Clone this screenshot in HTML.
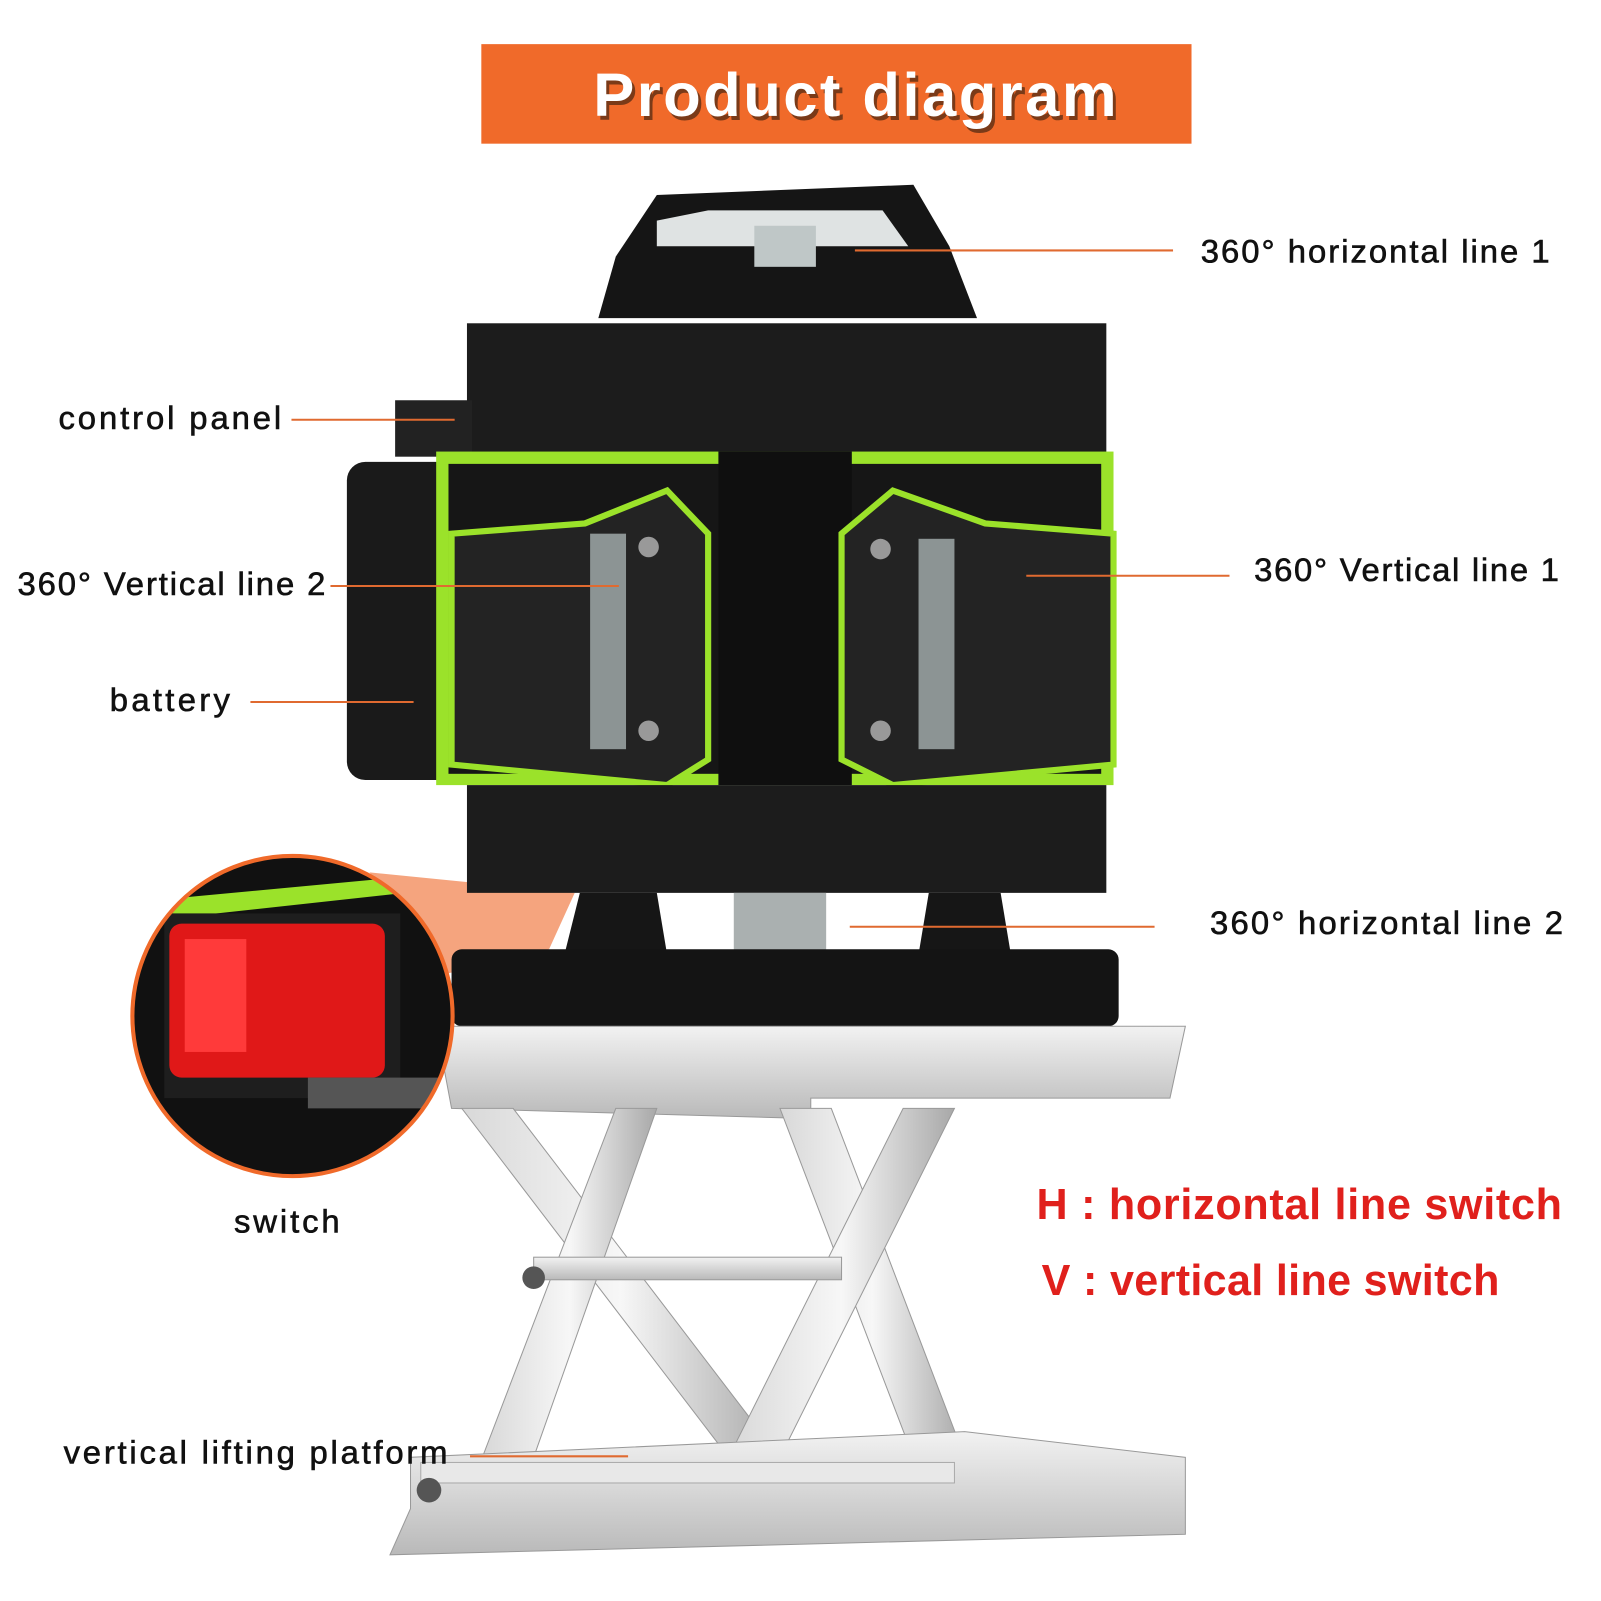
<!DOCTYPE html>
<html><head><meta charset="utf-8"><style>
html,body{margin:0;padding:0;background:#fff}
svg{display:block}
text{font-family:"Liberation Sans",sans-serif}
</style></head><body>
<svg width="1601" height="1601" viewBox="0 0 1560 1560" xmlns="http://www.w3.org/2000/svg">
<defs>
<linearGradient id="sil" x1="0" y1="0" x2="0" y2="1"><stop offset="0" stop-color="#f2f2f2"/><stop offset="1" stop-color="#b9b9b9"/></linearGradient>
<linearGradient id="bar" x1="0" y1="0" x2="1" y2="0"><stop offset="0" stop-color="#d8d8d8"/><stop offset=".5" stop-color="#f7f7f7"/><stop offset="1" stop-color="#a8a8a8"/></linearGradient>
<clipPath id="cc"><circle cx="285" cy="990" r="156"/></clipPath>
</defs>
<rect x="469" y="43" width="692" height="97" fill="#f06a2a"/>
<text x="836" y="117" font-size="60" font-weight="bold" fill="#7a3a18" text-anchor="middle" textLength="510">Product diagram</text>
<text x="833" y="113" font-size="60" font-weight="bold" fill="#fff" text-anchor="middle" textLength="510">Product diagram</text>

<polygon points="360,850 560,870 535,925 430,950" fill="#f5a47e"/>

<polygon points="583,310 600,250 640,190 890,180 925,240 952,310" fill="#151515"/>
<polygon points="640,215 690,205 860,205 885,240 640,240" fill="#dfe3e3"/>
<rect x="735" y="220" width="60" height="40" fill="#bfc7c7"/>
<rect x="455" y="315" width="623" height="130" fill="#1c1c1c"/>
<rect x="385" y="390" width="75" height="55" fill="#222"/>
<rect x="338" y="450" width="110" height="310" rx="18" fill="#1a1a1a"/>
<rect x="425" y="440" width="660" height="325" fill="#9be22a"/>
<rect x="437" y="452" width="636" height="302" fill="#161616"/>
<rect x="700" y="440" width="130" height="325" fill="#0f0f0f"/>
<path d="M440,520 L570,510 L650,478 L690,520 L690,740 L650,765 L440,745 Z" fill="#232323" stroke="#9be22a" stroke-width="6"/>
<rect x="575" y="520" width="35" height="210" fill="#8c9494"/>
<circle cx="632" cy="533" r="10" fill="#999"/><circle cx="632" cy="712" r="10" fill="#999"/>
<path d="M820,520 L870,478 L960,510 L1085,520 L1085,745 L870,765 L820,740 Z" fill="#232323" stroke="#9be22a" stroke-width="6"/>
<rect x="895" y="525" width="35" height="205" fill="#8c9494"/>
<circle cx="858" cy="535" r="10" fill="#999"/><circle cx="858" cy="712" r="10" fill="#999"/>
<rect x="455" y="765" width="623" height="105" fill="#1c1c1c"/>
<polygon points="565,870 640,870 650,930 550,930" fill="#161616"/>
<polygon points="905,870 975,870 985,930 895,930" fill="#161616"/>
<rect x="715" y="870" width="90" height="60" fill="#aab0b0"/>
<rect x="440" y="925" width="650" height="75" rx="10" fill="#141414"/>
<polygon points="425,1000 1155,1000 1140,1070 790,1070 790,1090 440,1080" fill="url(#sil)" stroke="#999"/>
<polygon points="450,1080 500,1080 760,1420 710,1420" fill="url(#bar)" stroke="#999"/>
<polygon points="600,1080 640,1080 520,1420 470,1420" fill="url(#bar)" stroke="#999"/>
<polygon points="760,1080 810,1080 940,1420 890,1420" fill="url(#bar)" stroke="#999"/>
<polygon points="880,1080 930,1080 760,1420 710,1420" fill="url(#bar)" stroke="#999"/>
<rect x="520" y="1225" width="300" height="22" fill="url(#sil)" stroke="#999"/>
<circle cx="520" cy="1245" r="11" fill="#555"/>
<polygon points="400,1420 940,1395 1155,1420 1155,1495 380,1515 400,1470" fill="url(#sil)" stroke="#999"/>
<rect x="410" y="1425" width="520" height="20" fill="#e8e8e8" stroke="#aaa"/>
<circle cx="418" cy="1452" r="12" fill="#555"/>
<g clip-path="url(#cc)">
<rect x="120" y="830" width="330" height="320" fill="#111"/>
<polygon points="120,880 440,850 440,865 120,900" fill="#9be22a"/>
<rect x="160" y="890" width="230" height="180" fill="#1e1e1e"/>
<rect x="165" y="900" width="210" height="150" rx="12" fill="#e01818"/>
<rect x="180" y="915" width="60" height="110" fill="#ff3a3a"/>
<rect x="300" y="1050" width="150" height="30" fill="#555"/>
</g>
<circle cx="285" cy="990" r="156" fill="none" stroke="#f06a2a" stroke-width="4"/>

<g stroke="#e06a30" stroke-width="2">
<line x1="833" y1="244" x2="1143" y2="244"/>
<line x1="284" y1="409" x2="443" y2="409"/>
<line x1="322" y1="571" x2="603" y2="571"/>
<line x1="1000" y1="561" x2="1198" y2="561"/>
<line x1="244" y1="684" x2="403" y2="684"/>
<line x1="828" y1="903" x2="1125" y2="903"/>
<line x1="458" y1="1419" x2="612" y2="1419"/>
</g>
<g font-size="32" fill="#111" stroke="#111" stroke-width="0.6">
<text x="1170" y="256" textLength="340">360° horizontal line 1</text>
<text x="57" y="418" textLength="217">control panel</text>
<text x="17" y="580" textLength="300">360° Vertical line 2</text>
<text x="1222" y="566" textLength="297">360° Vertical line 1</text>
<text x="107" y="693" textLength="117">battery</text>
<text x="1179" y="910" textLength="344">360° horizontal line 2</text>
<text x="228" y="1201" textLength="103">switch</text>
<text x="62" y="1426" textLength="374">vertical lifting platform</text>
</g>
<g font-size="42" fill="#e0201c" font-weight="bold">
<text x="1010" y="1188" textLength="512">H : horizontal line switch</text>
<text x="1015" y="1262" textLength="446">V : vertical line switch</text>
</g>
</svg>
</body></html>
